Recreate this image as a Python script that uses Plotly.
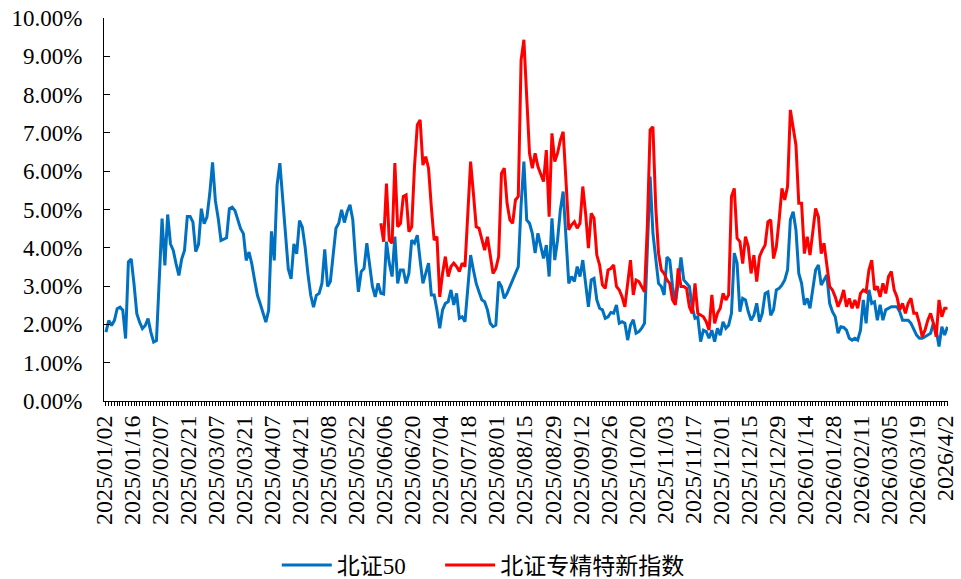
import plotly.graph_objects as go

# ── Data (daily, trading days; values in %) ──────────────────────────────────
x_labels = [
    "2025/01/02", "2025/01/16", "2025/02/07", "2025/02/21", "2025/03/07",
    "2025/03/21", "2025/04/07", "2025/04/21", "2025/05/08", "2025/05/22",
    "2025/06/06", "2025/06/20", "2025/07/04", "2025/07/18", "2025/08/01",
    "2025/08/15", "2025/08/29", "2025/09/12", "2025/09/26", "2025/10/20",
    "2025/11/03", "2025/11/17", "2025/12/01", "2025/12/15", "2025/12/29",
    "2026/01/14", "2026/01/28", "2026/02/11", "2026/03/05", "2026/03/19",
    "2026/4/2",
]
LABEL_STEP = 10  # one label every 10 trading days

bz50 = [
    1.80, 2.10, 1.97, 2.10, 2.41, 2.45, 2.37, 1.63, 3.63, 3.71,
    3.06, 2.28, 2.06, 1.89, 1.97, 2.15, 1.80, 1.54, 1.58, 3.06,
    4.76, 3.54, 4.87, 4.10, 3.93, 3.58, 3.28, 3.71, 3.93, 4.82,
    4.82, 4.67, 3.90, 4.09, 5.02, 4.63, 4.80, 5.41, 6.23, 5.23,
    4.78, 4.19, 4.23, 4.26, 5.02, 5.06, 4.97, 4.71, 4.50, 4.37,
    3.67, 3.89, 3.58, 3.15, 2.76, 2.54, 2.32, 2.06, 2.37, 4.43,
    3.67, 5.63, 6.21, 5.28, 4.19, 3.45, 3.19, 4.10, 3.84, 4.71,
    4.54, 4.02, 3.32, 2.76, 2.45, 2.76,
    2.81, 3.07, 3.96, 2.99, 3.12, 3.84, 4.51, 4.64, 4.99,
    4.66, 4.94, 5.12, 4.73, 3.68, 2.85, 3.38, 3.46, 4.12, 3.51,
    2.99, 2.72, 3.07, 2.81, 2.79, 4.16, 3.60, 3.25, 4.29, 3.07,
    3.42, 3.42, 3.07, 3.33, 4.20, 4.12, 4.33, 3.68, 3.07, 3.33,
    3.60, 2.77, 2.77, 2.38, 1.90, 2.38, 2.55, 2.59, 2.90, 2.51,
    2.81, 2.16, 2.20, 2.07, 2.99, 3.81, 3.42, 3.07, 2.85, 2.64,
    2.59, 2.38, 2.03, 1.94, 1.98, 3.12, 2.99, 2.68, 2.81, 2.99,
    3.20, 3.38, 3.51, 5.12, 6.25, 4.73,
    4.64, 4.38, 3.86, 4.38, 4.03, 3.72, 4.07, 3.25, 4.77, 3.68,
    4.20, 4.99, 5.47, 4.38, 3.07, 3.25, 3.12, 3.51, 3.25, 3.68,
    2.99, 2.46, 3.16, 3.20, 2.64, 2.42, 2.38, 2.16, 2.20, 2.31,
    2.29, 2.51, 2.03, 2.07, 2.03, 1.59, 1.98, 2.12, 1.77, 1.81,
    1.90, 2.03, 3.94, 5.86, 4.38, 3.68, 3.07, 2.99, 2.77, 3.76,
    3.68, 2.99, 2.55, 3.07, 3.75, 3.16, 3.07, 2.99, 2.46, 2.16,
    2.20, 1.55, 1.85, 1.81, 1.64, 1.85, 1.55, 1.90, 1.72, 2.07,
    1.90, 1.98, 2.29, 3.86, 3.60,
    2.33, 2.68, 2.64, 2.33, 2.11, 2.24, 2.55, 2.07, 2.29, 2.81,
    2.85, 2.24, 2.38, 2.90, 2.94, 3.03, 3.16, 3.42, 4.73, 4.94,
    4.46, 3.33, 3.07, 2.51, 2.68, 2.42, 2.99, 3.42, 3.55, 3.03,
    3.16, 3.29, 2.55, 2.33, 2.20, 1.77, 1.94, 1.92, 1.85, 1.64,
    1.59, 1.64, 1.59, 1.85, 2.64, 2.03, 2.90, 2.55, 2.59, 2.11,
    2.51, 2.11, 2.38, 2.42, 2.46, 2.46, 2.46, 2.33, 2.11, 2.11,
    2.11, 2.03, 1.85, 1.72, 1.64, 1.64, 1.68, 1.72, 1.77, 2.03,
    1.85, 1.42, 1.94, 1.72, 1.94,
]

ZJTX_START = 98  # index of the first trading day with data for the red series
zjtx = [
    4.64, 4.16, 5.68, 4.20, 4.12, 6.21, 4.55, 4.64, 5.34, 5.38,
    4.42, 4.55, 6.12, 7.21, 7.34, 6.16, 6.38, 6.08, 5.07, 4.20,
    4.29, 2.72, 3.33, 3.77, 3.25, 3.51, 3.60, 3.51, 3.38, 3.60,
    3.51, 4.73, 6.25, 5.42, 4.55, 4.51, 4.20, 3.94, 4.29, 3.84,
    3.33, 3.46, 3.77, 5.94, 6.08, 5.16, 4.73, 4.64, 5.25, 5.34,
    8.90, 9.43, 7.80,
    6.47, 6.08, 6.47, 6.12, 5.94, 5.73, 6.55, 4.81, 6.99, 6.25,
    6.47, 6.81, 7.03, 5.77, 4.47, 4.60, 4.68, 4.51, 4.64, 5.60,
    4.90, 3.99, 4.90, 4.77, 3.81, 3.55, 3.03, 2.94, 3.42, 3.46,
    3.55, 2.99, 2.90, 2.72, 2.46, 3.07, 3.68, 2.77, 3.16, 3.12,
    2.99, 2.85, 4.55, 7.08, 7.16, 5.07, 3.86, 3.42, 3.33, 3.16,
    3.07, 2.64, 2.51, 3.46, 2.99, 2.99, 2.94, 2.46, 2.29, 3.07,
    2.29, 2.25, 2.20, 2.07, 1.85, 2.77, 2.03, 2.29, 2.42, 2.81,
    2.64, 2.77, 5.34, 5.55, 4.25,
    4.16, 3.59, 4.29, 4.03, 3.33, 3.81, 3.12, 3.77, 3.94, 4.07,
    4.68, 4.73, 3.72, 4.03, 4.73, 5.55, 5.25, 5.60, 7.60, 7.16,
    6.68, 5.16, 5.16, 3.85, 4.29, 3.81, 4.51, 5.03, 4.81, 3.85,
    4.12, 3.51, 2.99, 2.90, 2.72, 2.46, 2.64, 2.90, 2.46, 2.68,
    2.42, 2.64, 2.42, 2.81, 2.90, 2.85, 3.42, 3.68, 2.90, 2.99,
    2.72, 3.07, 2.81, 3.25, 3.38, 2.90, 2.72, 2.38, 2.55, 2.29,
    2.55, 2.68, 2.29, 2.29, 2.03, 1.68, 1.85, 2.11, 2.29, 2.03,
    1.68, 2.64, 2.20, 2.42, 2.42,
]

x_blue = list(range(len(bz50)))
x_red = list(range(ZJTX_START, ZJTX_START + len(zjtx)))

SERIF = "Liberation Serif, Times New Roman, Noto Sans CJK SC, serif"

fig = go.Figure()
fig.add_trace(go.Scatter(
    x=x_blue, y=bz50, mode="lines", name="北证50", legend="legend",
    line=dict(color="#0070C0", width=3),
))
fig.add_trace(go.Scatter(
    x=x_red, y=zjtx, mode="lines", name="北证专精特新指数", legend="legend2",
    line=dict(color="#FF0000", width=3),
))

legend_style = dict(
    orientation="h", xref="container", yref="container",
    y=0.024, xanchor="left", yanchor="middle",
    font=dict(size=23), itemwidth=50, bgcolor="rgba(0,0,0,0)",
)

fig.update_layout(
    width=961, height=579,
    margin=dict(l=104, r=13, t=18, b=178),
    plot_bgcolor="white", paper_bgcolor="white",
    font=dict(family=SERIF, size=20, color="black"),
    showlegend=True,
    legend=dict(legend_style, x=0.288),
    legend2=dict(legend_style, x=0.458),
    xaxis=dict(
        range=[-0.7, len(bz50) - 0.8],
        tickmode="array",
        tickvals=[i * LABEL_STEP for i in range(len(x_labels))],
        ticktext=x_labels,
        tickangle=-90,
        tickfont=dict(size=24),
        ticklabeloverflow="allow",
        ticklabelshift=-2,
        automargin=False,
        ticks="outside", ticklen=4, tickcolor="black",
        minor=dict(dtick=1, tick0=0, ticks="outside", ticklen=4, tickcolor="black"),
        showline=True, linecolor="black", linewidth=1,
        showgrid=False, zeroline=False,
    ),
    yaxis=dict(
        range=[0, 10], dtick=1, tickformat=".2f", ticksuffix="%",
        tickfont=dict(size=23),
        automargin=False,
        ticks="inside", ticklen=6, tickcolor="black",
        ticklabelstandoff=16,
        showline=True, linecolor="black", linewidth=1,
        showgrid=False, zeroline=False,
    ),
)

# page body has a default 8px margin; drop it so the figure sits at 0,0
fig.write_html(
    "out.html",
    config={"displayModeBar": False},
    post_script="document.body.style.margin='0';",
)
